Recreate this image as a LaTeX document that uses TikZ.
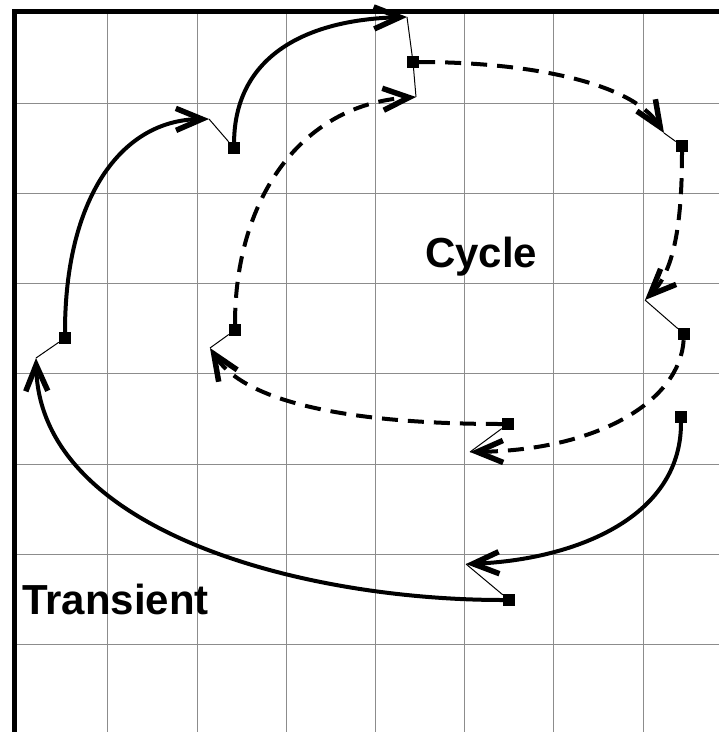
\documentclass[tikz,border=0pt]{standalone}
\usepackage{fontspec}
\setmainfont{Liberation Sans}
\usetikzlibrary{arrows.meta}
\tikzset{
  gridline/.style={draw=black!45, line width=1pt},
  frameline/.style={draw=black, line width=4.5pt},
  dot/.style={rectangle, fill=black, inner sep=0pt, minimum size=12pt},
  flow/.style={line width=4pt, -{Straight Barb[length=26pt,width=22pt,line width=5.5pt]}},
  dflow/.style={flow, dash pattern=on 16pt off 10pt},
  tick/.style={line width=1pt},
  lbl/.style={font=\bfseries\fontsize{42}{48}\selectfont, anchor=base west, inner sep=0pt}
}
\begin{document}
\begin{tikzpicture}[x=1pt,y=-1pt]
\useasboundingbox (0,0) rectangle (719,732);
% grid
\foreach \gx in {107,197,286,375,464,553,643}
  \draw[gridline] (\gx,11.5) -- (\gx,732);
\foreach \gy in {103,193,283,373,464,554,644}
  \draw[gridline] (14.5,\gy) -- (719,\gy);
% frame
\draw[frameline] (14.5,732) -- (14.5,11.5) -- (719,11.5);
% states
\node[dot] (A) at (65,338) {};
\node[dot] (B) at (234,148) {};
\node[dot] (C) at (413,62) {};
\node[dot] (D) at (682,146) {};
\node[dot] (E) at (684,334) {};
\node[dot] (F) at (681,417) {};
\node[dot] (G) at (508,424) {};
\node[dot] (H) at (235,330) {};
\node[dot] (I) at (509,600) {};
% arrow tips
\coordinate (tAB) at (209,119);
\coordinate (tBC) at (407,17);
\coordinate (tCD) at (664,133);
\coordinate (tDE) at (645,300);
\coordinate (tEG) at (470,452);
\coordinate (tGH) at (210,348);
\coordinate (tHC) at (416,97);
\coordinate (tFI) at (466,564);
\coordinate (tIA) at (36,358);
% solid transitions
\draw[flow] (A) .. controls (65,200) and (120,120) .. (tAB);
\draw[flow] (B) .. controls (235,60) and (300,20) .. (tBC);
\draw[flow] (F) .. controls (681,520) and (570,560) .. (tFI);
\draw[flow] (I) .. controls (300,600) and (40,530) .. (tIA);
% dashed transitions
\draw[dflow] (C) .. controls (520,62) and (630,80) .. (tCD);
\draw[dflow] (D) .. controls (682,220) and (675,270) .. (tDE);
\draw[dflow] (E) .. controls (680,400) and (600,450) .. (tEG);
\draw[dflow] (G) .. controls (380,424) and (250,410) .. (tGH);
\draw[dflow] (H) .. controls (235,200) and (300,105) .. (tHC);
% ticks from tips to states
\draw[tick] (tAB) -- (B);
\draw[tick] (tBC) -- (C);
\draw[tick] (tCD) -- (D);
\draw[tick] (tDE) -- (E);
\draw[tick] (tEG) -- (G);
\draw[tick] (tGH) -- (H);
\draw[tick] (tHC) -- (C);
\draw[tick] (tFI) -- (I);
\draw[tick] (tIA) -- (A);
% labels
\node[lbl] (cyc) at (425,267) {Cycle};
\node[lbl] (tra) at (22,614) {Transient};
\end{tikzpicture}
\end{document}
